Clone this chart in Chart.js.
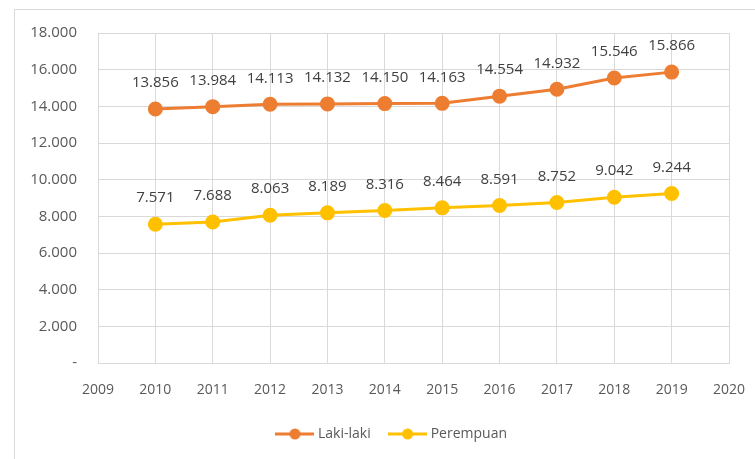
<!DOCTYPE html>
<html>
<head>
<meta charset="utf-8">
<script src="https://cdn.jsdelivr.net/npm/chart.js@4"></script>
<style>
  body { margin: 0; background: #fff; }
  #wrap { position: relative; width: 755px; height: 459px; overflow: hidden; }
  #frame { position: absolute; left: 14px; top: 9px; width: 800px; height: 500px;
           border-left: 1px solid #d9d9d9; border-top: 1px solid #d9d9d9; }
  #myChart { position: absolute; left: 0; top: 0; }
</style>
</head>
<body>
<div id="wrap">
  <div id="frame"></div>
  <canvas id="myChart" width="755" height="459"></canvas>
</div>
<script>
var years = [2010, 2011, 2012, 2013, 2014, 2015, 2016, 2017, 2018, 2019];
var lakiLaki = [13856, 13984, 14113, 14132, 14150, 14163, 14554, 14932, 15546, 15866];
var perempuan = [7571, 7688, 8063, 8189, 8316, 8464, 8591, 8752, 9042, 9244];
var yTicks = [0, 2000, 4000, 6000, 8000, 10000, 12000, 14000, 16000, 18000];

function fmt(v) {
    if (v == 0) return "-";
    return String(v).replace(/\B(?=(\d{3})+(?!\d))/g, ".");
}

function toPoints(arr) {
    return arr.map(function (v, i) { return { x: years[i], y: v }; });
}

// little line + dot used as legend marker
function legendMark(color) {
    var c = document.createElement("canvas");
    c.width = 39; c.height = 12;
    var g = c.getContext("2d");
    g.strokeStyle = color; g.lineWidth = 3;
    g.beginPath(); g.moveTo(0, 6); g.lineTo(39, 6); g.stroke();
    g.fillStyle = color;
    g.beginPath(); g.arc(19.5, 6, 5.5, 0, Math.PI * 2); g.fill();
    return c;
}

var dataLabels = {
    id: "dataLabels",
    afterDatasetsDraw: function (chart) {
        var ctx = chart.ctx;
        ctx.save();
        ctx.font = "15px 'Open Sans'";
        ctx.fillStyle = "#404040";
        ctx.textAlign = "center";
        ctx.textBaseline = "middle";
        chart.data.datasets.forEach(function (ds, i) {
            chart.getDatasetMeta(i).data.forEach(function (pt, j) {
                ctx.fillText(fmt(ds.data[j].y), pt.x, pt.y - 26);
            });
        });
        ctx.restore();
    }
};

// nudge the legend so it sits where the original one does
var legendShift = {
    id: "legendShift",
    afterLayout: function (chart) {
        chart.legend.left += 57;
    }
};

Chart.defaults.font.family = "'Open Sans'";
Chart.defaults.color = "#595959";

new Chart("myChart", {
    type: "line",
    data: {
        datasets: [{
            label: "Laki-laki",
            data: toPoints(lakiLaki),
            borderColor: "#ED7D31",
            backgroundColor: "#ED7D31",
            borderWidth: 3,
            pointRadius: 6,
            pointHoverRadius: 6,
            fill: false,
            tension: 0
        }, {
            label: "Perempuan",
            data: toPoints(perempuan),
            borderColor: "#FFC000",
            backgroundColor: "#FFC000",
            borderWidth: 3,
            pointRadius: 6,
            pointHoverRadius: 6,
            fill: false,
            tension: 0
        }]
    },
    options: {
        responsive: false,
        animation: false,
        devicePixelRatio: 1,
        layout: { padding: { left: 0, right: 26, top: 33, bottom: 8 } },
        scales: {
            x: {
                type: "linear",
                min: 2009,
                max: 2020,
                ticks: {
                    stepSize: 1,
                    padding: 19,
                    font: { size: 14 },
                    callback: function (v) { return String(v); }
                },
                grid: { color: "#d9d9d9", drawTicks: false },
                border: { color: "#d9d9d9" },
                afterFit: function (s) { s.height = 43; s.paddingLeft = 0; s.paddingRight = 0; }
            },
            y: {
                min: 0,
                max: 18000,
                afterBuildTicks: function (s) {
                    s.ticks = yTicks.map(function (v) { return { value: v }; });
                },
                ticks: {
                    padding: 21,
                    font: { size: 15 },
                    callback: function (v) { return fmt(v); }
                },
                grid: { color: "#d9d9d9", drawTicks: false },
                border: { color: "#d9d9d9" },
                afterFit: function (s) { s.width = 98; }
            }
        },
        plugins: {
            legend: {
                position: "bottom",
                labels: {
                    usePointStyle: true,
                    pointStyleWidth: 32,
                    padding: 21,
                    font: { size: 14 },
                    generateLabels: function (chart) {
                        return chart.data.datasets.map(function (ds, i) {
                            return {
                                text: ds.label,
                                pointStyle: legendMark(ds.borderColor),
                                fillStyle: ds.borderColor,
                                strokeStyle: ds.borderColor,
                                lineWidth: 0,
                                datasetIndex: i,
                                fontColor: "#595959"
                            };
                        });
                    }
                }
            },
            tooltip: { enabled: false }
        }
    },
    plugins: [dataLabels, legendShift]
});
</script>
</body>
</html>
